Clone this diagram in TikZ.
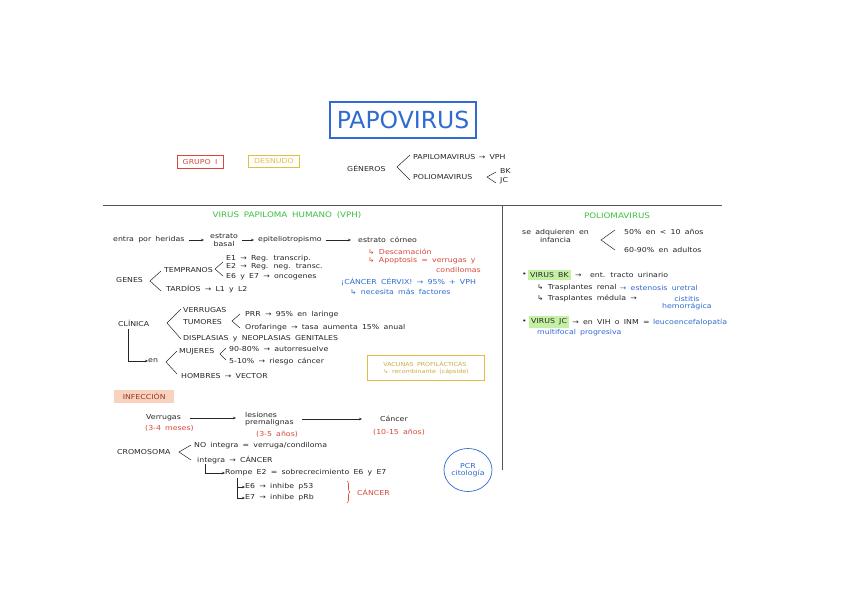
\documentclass[tikz,border=0pt]{standalone}
\usepackage{fontspec}
\setmainfont{DejaVu Sans}[FakeStretch=1.15, WordSpace=1.7]
\newfontfamily\titlefont{DejaVu Sans}
\usetikzlibrary{arrows.meta,decorations.pathreplacing,shapes.geometric}
\definecolor{pblue}{HTML}{2F6BD0}
\definecolor{pred}{HTML}{D9483B}
\definecolor{pyel}{HTML}{E3BE45}
\definecolor{pgreen}{HTML}{3DBE3D}
\definecolor{hgreen}{HTML}{C4F0A4}
\definecolor{peach}{HTML}{F9D2BD}
\definecolor{ink}{HTML}{262626}
\definecolor{rule}{HTML}{555555}
\begin{document}
\begin{tikzpicture}[x=1pt,y=-1pt,
  every node/.style={inner sep=0pt, text=ink, font=\fontsize{6.8}{7.6}\selectfont},
  tx/.style={anchor=west},
  redt/.style={text=pred},
  bluet/.style={text=pblue},
  greent/.style={text=pgreen, font=\fontsize{7.6}{8.5}\selectfont},
  brk/.style={draw=ink, line width=0.5pt},
  arr/.style={draw=ink, line width=0.5pt, -{Stealth[length=3pt,width=2.5pt]}},
  hl/.style={fill=hgreen, inner xsep=2pt, inner ysep=2.5pt}
]
\useasboundingbox[fill=white] (0,0) rectangle (848,608);

% ---- header ----
\node[draw=pblue, line width=2pt, minimum width=146, minimum height=36, text=pblue, font=\titlefont\fontsize{23.5}{26}\selectfont] (title) at (403,120) {PAPOVIRUS};
\node[draw=pred, line width=0.7pt, minimum width=46, minimum height=13, text=pred] (grupo) at (200,162) {GRUPO I};
\node[draw=pyel, line width=0.7pt, minimum width=51, minimum height=12, text=pyel] (desnudo) at (274,161) {DESNUDO};
\node[tx] (generos) at (347,168) {GÉNEROS};
\draw[brk] (410,155) -- (397,167) -- (410,180);
\node[tx] (papilo) at (413,157) {PAPILOMAVIRUS};
\node[tx] (vph) at ([xshift=3pt]papilo.east) {→ VPH};
\node[tx] (polio) at (413,177) {POLIOMAVIRUS};
\draw[brk] (496,172) -- (487,177) -- (496,183);
\node[tx] (bk) at (500,171) {BK};
\node[tx] (jc) at (500,181) {JC};

% ---- dividing lines ----
\draw[rule, line width=1pt] (103,205) -- (722,205);
\draw[rule, line width=1pt] (502,205) -- (502,470);

% ---- VPH ----
\node[greent] (vphtitle) at (287,215) {VIRUS PAPILOMA HUMANO (VPH)};
\node[tx] (n1) at (113,240) {entra por heridas};
\node[tx, align=center] (n2) at (210,240) {estrato\\basal};
\node[tx] (n3) at (258,240) {epiteliotropismo};
\node[tx] (n4) at (358,240) {estrato córneo};
\draw[arr, shorten <=4pt, shorten >=6pt] (n1) -- (n2);
\draw[arr, shorten <=4pt, shorten >=4pt] (n2) -- (n3);
\draw[arr, shorten <=4pt, shorten >=7pt] (n3) -- (n4);
\node[tx, redt] (desc) at (368,252) {↳ Descamación};
\node[tx, redt] (apop) at (368,261) {↳ Apoptosis = verrugas y};
\node[anchor=east, redt] (cond) at (481,270) {condilomas};

\node[tx] (genes) at (116,280) {GENES};
\draw[brk] (161,271) -- (150,281) -- (161,291);
\node[tx] (temp) at (164,270) {TEMPRANOS};
\draw[brk] (223,262) -- (215,269) -- (223,276);
\node[tx] (e1) at (226,259) {E1 → Reg. transcrip.};
\node[tx] (e2) at (226,267) {E2 → Reg. neg. transc.};
\node[tx] (e6) at (226,277) {E6 y E7 → oncogenes};
\node[tx] (tard) at (166,289) {TARDÍOS → L1 y L2};
\node[tx, bluet] (canc) at (341,282) {¡CÁNCER CÉRVIX! → 95\% + VPH};
\node[tx, bluet] (nec) at (350,292) {↳ necesita más factores};

\node[tx] (clin) at (118,323) {CLÍNICA};
\draw[brk] (181,309) -- (167,323) -- (181,339);
\node[tx] (verr) at (183,310) {VERRUGAS};
\node[tx] (tum) at (183,322) {TUMORES};
\draw[brk] (240,314) -- (232,321) -- (240,328);
\node[tx] (prr) at (245,315) {PRR → 95\% en laringe};
\node[tx] (oro) at (245,328) {Orofaringe → tasa aumenta 15\% anual};
\node[tx] (disp) at (183,339) {DISPLASIAS y NEOPLASIAS GENITALES};
\node[tx] (en) at (148,361) {en};
\draw[arr] (128,329) |- (en.west);
\draw[brk] (177,351) -- (166,362) -- (177,374);
\node[tx] (muj) at (179,352) {MUJERES};
\draw[brk] (226,348) -- (220,354) -- (226,360);
\node[tx] (autor) at (229,349) {90-80\% → autorresuelve};
\node[tx] (riesgo) at (229,361) {5-10\% → riesgo cáncer};
\node[tx] (homb) at (181,376) {HOMBRES → VECTOR};

\node[draw=pyel, line width=0.7pt, minimum width=117, minimum height=25, text=pyel!90!black, align=left, font=\fontsize{5.5}{7}\selectfont] (vac) at (426,368) {VACUNAS PROFILÁCTICAS\\ ↳ recombinante (cápside)};

\node[tx, fill=peach, minimum width=60, minimum height=13, text=pred!70!black, inner xsep=2pt] (inf) at (114,396) {INFECCIÓN};

\node[tx] (verrug) at (146,418) {Verrugas};
\node[tx, redt] (m1) at (145,428) {(3-4 meses)};
\node[tx, align=left] (les) at (245,419) {lesiones\\premalignas};
\node[tx, redt] (a1) at (256,434) {(3-5 años)};
\node[tx] (can) at (380,419) {Cáncer};
\node[tx, redt] (a2) at (373,432) {(10-15 años)};
\draw[arr, shorten <=9pt, shorten >=9pt] (verrug.east) -- (les.west |- verrug.east);
\draw[arr, shorten <=8pt, shorten >=18pt] (les.east) -- (can.west);

\node[tx] (crom) at (117,452) {CROMOSOMA};
\draw[brk] (191,445) -- (179,452) -- (191,460);
\node[tx] (noint) at (194,446) {NO integra = verruga/condiloma};
\node[tx] (integ) at (197,460) {integra → CÁNCER};
\node[tx] (rompe) at (225,473) {Rompe E2 = sobrecrecimiento E6 y E7};
\draw[arr] (205,464) |- (rompe.west);
\node[tx] (e6i) at (245,487) {E6 → inhibe p53};
\node[tx] (e7i) at (245,498) {E7 → inhibe pRb};
\draw[arr] (237,478) |- (e6i.west);
\draw[arr] (237,478) |- (e7i.west);
\draw[pred, line width=0.6pt, decorate, decoration={brace, amplitude=3pt}] (347,481) -- (347,503);
\node[tx, redt] (canc2) at (357,492) {CÁNCER};

\node[ellipse, draw=pblue, line width=0.7pt, minimum width=48, minimum height=43, text=pblue, align=center] (pcr) at (468,470) {PCR\\citología};

% ---- Poliomavirus ----
\node[greent] (poltitle) at (617,216) {POLIOMAVIRUS};
\node[tx, align=center] (adq) at (522,236) {se adquieren en\\infancia};
\draw[brk] (615,230) -- (601,240) -- (615,250);
\node[tx] (p50) at (624,232) {50\% en < 10 años};
\node[tx] (p60) at (624,250) {60-90\% en adultos};

\node[tx] (b1) at (522,275) {•};
\node[tx, hl] (vbk) at (528,275) {VIRUS BK};
\node[tx] (bkr) at ([xshift=4pt]vbk.east) {→ \ ent. tracto urinario};
\node[tx] (tr1) at (537,288) {↳ Trasplantes renal};
\node[tx, bluet] (est) at ([xshift=3pt]tr1.east) {→ estenosis uretral};
\node[tx] (tr2) at (537,298) {↳ Trasplantes médula →};
\node[tx, bluet, align=center] (cist) at (662,303) {cistitis\\hemorrágica};

\node[tx] (b2) at (522,322) {•};
\node[tx, hl] (vjc) at (529,322) {VIRUS JC};
\node[tx] (jcr) at ([xshift=3pt]vjc.east) {→ en VIH o INM =};
\node[tx, bluet] (leuco) at ([xshift=3pt]jcr.east) {leucoencefalopatía};
\node[tx, bluet] (multi) at (537,333) {multifocal progresiva};
\end{tikzpicture}
\end{document}
